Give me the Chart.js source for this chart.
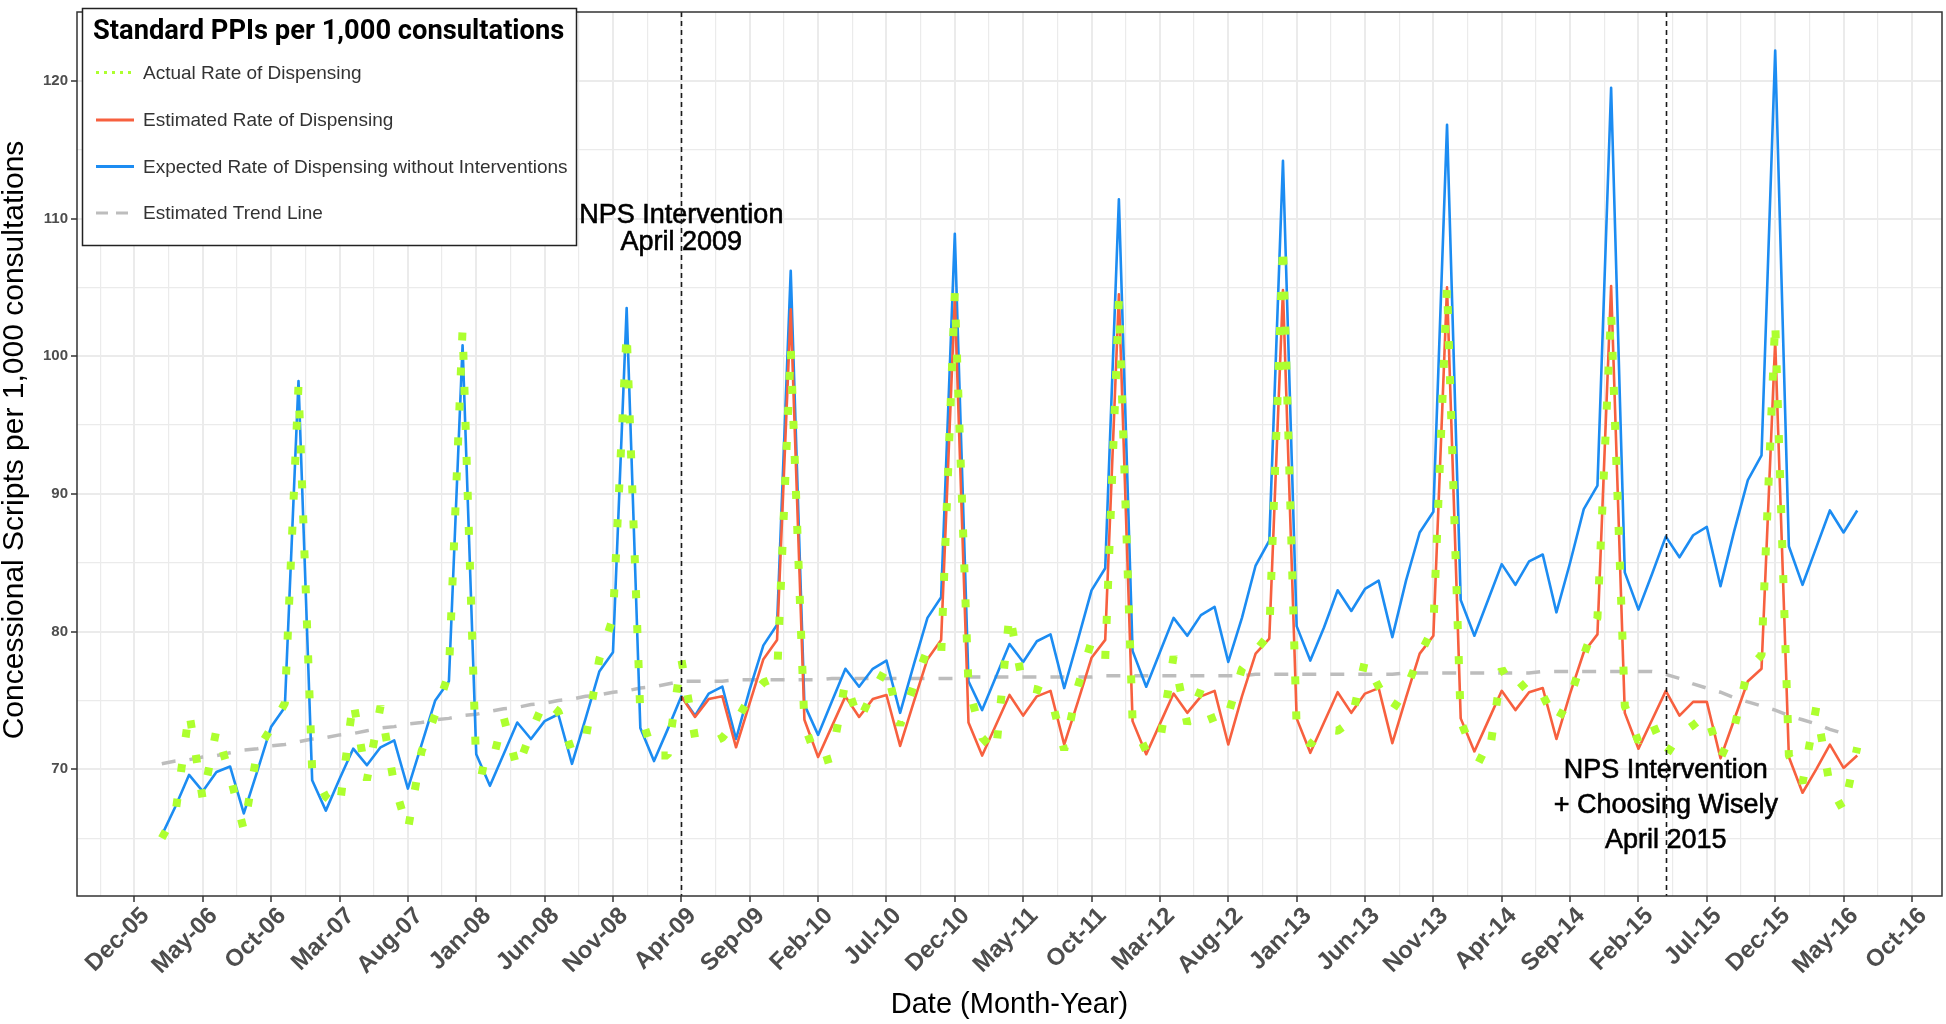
<!DOCTYPE html>
<html>
<head>
<meta charset="utf-8">
<script src="https://cdn.jsdelivr.net/npm/chart.js@4.4.1/dist/chart.umd.min.js"></script>
<style>
html,body{margin:0;padding:0;background:#ffffff;}
canvas{display:block;}
</style>
</head>
<body>
<canvas id="c" width="1946" height="1024"></canvas>
<script>
// ---------- DATA ----------
const months = [
 '2006-02','2006-03','2006-04','2006-05','2006-06','2006-07','2006-08','2006-09','2006-10','2006-11','2006-12',
 '2007-01','2007-02','2007-03','2007-04','2007-05','2007-06','2007-07','2007-08','2007-09','2007-10','2007-11','2007-12',
 '2008-01','2008-02','2008-03','2008-04','2008-05','2008-06','2008-07','2008-08','2008-09','2008-10','2008-11','2008-12',
 '2009-01','2009-02','2009-03','2009-04','2009-05','2009-06','2009-07','2009-08','2009-09','2009-10','2009-11','2009-12',
 '2010-01','2010-02','2010-03','2010-04','2010-05','2010-06','2010-07','2010-08','2010-09','2010-10','2010-11','2010-12',
 '2011-01','2011-02','2011-03','2011-04','2011-05','2011-06','2011-07','2011-08','2011-09','2011-10','2011-11','2011-12',
 '2012-01','2012-02','2012-03','2012-04','2012-05','2012-06','2012-07','2012-08','2012-09','2012-10','2012-11','2012-12',
 '2013-01','2013-02','2013-03','2013-04','2013-05','2013-06','2013-07','2013-08','2013-09','2013-10','2013-11','2013-12',
 '2014-01','2014-02','2014-03','2014-04','2014-05','2014-06','2014-07','2014-08','2014-09','2014-10','2014-11','2014-12',
 '2015-01','2015-02','2015-03','2015-04','2015-05','2015-06','2015-07','2015-08','2015-09','2015-10','2015-11','2015-12',
 '2016-01','2016-02','2016-03','2016-04','2016-05','2016-06'
];

const actualRate = [
 65.0, 66.8, 74.2, 67.8, 72.9, 69.5, 65.6, 71.4, 73.0, 74.8, 97.9,
 69.9, 68.0, 67.2, 75.0, 69.2, 74.6, 68.9, 65.6, 71.3, 74.0, 77.0, 102.0,
 70.0, 69.8, 73.8, 70.0, 72.7, 75.0, 74.2, 71.3, 72.2, 78.0, 81.0, 101.8,
 74.0, 71.0, 71.0, 78.0, 72.3, 71.8, 72.3, 73.5, 75.2, 76.3, 76.7, 100.6,
 73.2, 70.5, 70.8, 76.4, 73.5, 75.6, 77.4, 73.2, 76.1, 78.7, 78.2, 104.6,
 76.0, 72.3, 71.2, 81.3, 76.0, 75.8, 75.4, 71.4, 76.0, 79.3, 78.0, 104.1,
 73.5, 71.3, 72.0, 78.2, 73.3, 75.8, 73.2, 74.0, 77.3, 78.6, 79.8, 108.2,
 73.0, 71.8, 72.9, 72.8, 73.5, 77.9, 76.0, 74.3, 75.8, 78.3, 80.3, 105.2,
 73.5, 71.0, 70.5, 77.3, 75.6, 76.5, 75.4, 73.4, 75.2, 78.3, 81.0, 103.3,
 74.6, 72.0, 73.4, 71.0, 72.5, 73.2, 74.0, 70.8, 73.0, 77.2, 78.3, 102.6,
 71.0, 69.0, 74.5, 68.8, 67.0, 71.6
];

const estimatedRate = [
 null, null, null, null, null, null, null, null, null, null, null,
 null, null, null, null, null, null, null, null, null, null, null, null,
 null, null, null, null, null, null, null, null, null, null, null, null,
 null, null, null, 75.3, 73.8, 75.1, 75.3, 71.6, 74.8, 78.0, 79.4, 103.4,
 73.6, 70.9, 73.1, 75.3, 73.8, 75.1, 75.4, 71.7, 74.9, 78.0, 79.4, 104.2,
 73.4, 71.0, 73.2, 75.4, 73.9, 75.3, 75.7, 71.8, 74.9, 78.1, 79.4, 104.5,
 73.5, 71.1, 73.3, 75.5, 74.1, 75.3, 75.7, 71.8, 75.3, 78.4, 79.5, 104.8,
 73.7, 71.2, 73.4, 75.6, 74.1, 75.5, 75.9, 71.9, 75.2, 78.4, 79.7, 105.0,
 73.7, 71.3, 73.5, 75.7, 74.3, 75.6, 75.9, 72.2, 75.5, 78.5, 79.8, 105.1,
 74.1, 71.5, 73.6, 75.7, 73.9, 74.9, 74.9, 70.8, 73.6, 76.4, 77.3, 101.1,
 70.9, 68.3, 70.0, 71.8, 70.1, 71.0
];

const expectedRate = [
 65.2, 67.3, 69.6, 68.4, 69.8, 70.2, 66.8, 69.9, 73.1, 74.5, 98.2,
 69.2, 67.0, 69.3, 71.5, 70.3, 71.6, 72.1, 68.6, 71.8, 75.0, 76.4, 100.8,
 71.1, 68.8, 71.1, 73.4, 72.2, 73.5, 74.0, 70.4, 73.7, 77.1, 78.5, 103.5,
 73.0, 70.6, 72.9, 75.3, 73.9, 75.5, 76.0, 72.2, 75.8, 79.0, 80.5, 106.2,
 74.7, 72.5, 74.9, 77.3, 76.0, 77.3, 77.9, 74.1, 77.6, 81.0, 82.5, 108.9,
 76.4, 74.3, 76.7, 79.1, 77.8, 79.3, 79.8, 75.9, 79.4, 83.0, 84.6, 111.4,
 78.6, 76.0, 78.5, 81.0, 79.7, 81.2, 81.8, 77.8, 81.0, 84.8, 86.6, 114.2,
 80.4, 77.9, 80.3, 83.0, 81.5, 83.1, 83.7, 79.6, 83.7, 87.2, 88.7, 116.8,
 82.3, 79.7, 82.3, 84.9, 83.4, 85.1, 85.6, 81.4, 85.0, 88.9, 90.6, 119.5,
 84.3, 81.6, 84.2, 86.9, 85.4, 87.0, 87.6, 83.3, 87.3, 91.0, 92.8, 122.2,
 86.2, 83.4, 86.1, 88.8, 87.2, 88.8
];

const trendLine = [
 70.4, 70.6, 70.7, 70.9, 71.0, 71.2, 71.4, 71.5, 71.7, 71.8, 72.0,
 72.2, 72.3, 72.5, 72.6, 72.8, 73.0, 73.1, 73.3, 73.4, 73.6, 73.7, 73.9,
 74.0, 74.2, 74.4, 74.5, 74.7, 74.8, 75.0, 75.1, 75.3, 75.4, 75.6, 75.7,
 75.9, 76.0, 76.2, 76.4, 76.4, 76.4, 76.4, 76.5, 76.5, 76.5, 76.5, 76.5,
 76.5, 76.5, 76.6, 76.6, 76.6, 76.6, 76.6, 76.6, 76.6, 76.6, 76.6, 76.6,
 76.7, 76.7, 76.7, 76.7, 76.7, 76.7, 76.7, 76.7, 76.7, 76.7, 76.8, 76.8,
 76.8, 76.8, 76.8, 76.8, 76.8, 76.8, 76.8, 76.8, 76.8, 76.9, 76.9, 76.9,
 76.9, 76.9, 76.9, 76.9, 76.9, 76.9, 76.9, 76.9, 77.0, 77.0, 77.0, 77.0,
 77.0, 77.0, 77.0, 77.0, 77.0, 77.0, 77.1, 77.1, 77.1, 77.1, 77.1, 77.1,
 77.1, 77.1, 77.1, 76.9, 76.6, 76.2, 75.9, 75.6, 75.2, 74.9, 74.6, 74.3,
 73.9, 73.6, 73.3, 72.9, 72.6, null
];

const xTickLabels = ['Dec-05','May-06','Oct-06','Mar-07','Aug-07','Jan-08','Jun-08','Nov-08','Apr-09',
 'Sep-09','Feb-10','Jul-10','Dec-10','May-11','Oct-11','Mar-12','Aug-12','Jan-13','Jun-13','Nov-13',
 'Apr-14','Sep-14','Feb-15','Jul-15','Dec-15','May-16','Oct-16'];
const yTickValues = [70, 80, 90, 100, 110, 120];

const seriesNames = ['Actual Rate of Dispensing','Estimated Rate of Dispensing',
 'Expected Rate of Dispensing without Interventions','Estimated Trend Line'];
const legendTitle = 'Standard PPIs per 1,000 consultations';
const xAxisTitle = 'Date (Month-Year)';
const yAxisTitle = 'Concessional Scripts per 1,000 consultations';

const interventionMonths = ['2009-04', '2015-04'];
const interventionLabels = [['NPS Intervention','April 2009'], ['NPS Intervention','+ Choosing Wisely','April 2015']];
const interventionLabelY = [109.25, 67.4];

// ---------- HELPERS ----------
const BASE = { y: 2005, m: 12 };  // axis origin: Dec 2005
function monthIndex(s) {
  const [yy, mm] = s.split('-').map(Number);
  return (yy - BASE.y) * 12 + (mm - BASE.m);
}
function toPoints(values) {
  return months.map((m, i) => ({ x: monthIndex(m), y: values[i] }));
}
const near = (a, b) => Math.abs(a - b) < 1e-6;
const isMajorX = v => near(v / 5, Math.round(v / 5));
const isMajorY = v => near(v / 10, Math.round(v / 10));

const COLORS = {
  actual: '#ADFF2F',
  estimated: '#F7603F',
  expected: '#1C8CF2',
  trend: '#BDBDBD',
  grid: '#EBEBEB',
  axisText: '#4D4D4D',
  border: '#333333'
};
const SANS = '"Liberation Sans", Arial, Helvetica, sans-serif';
Chart.defaults.font.family = SANS;

// ---------- OVERLAY PLUGIN (annotations, panel border, y title, legend) ----------
const overlay = {
  id: 'overlay',
  afterDatasetsDraw(chart) {
    const { ctx, chartArea: a, scales: { x, y } } = chart;
    ctx.save();
    ctx.fillStyle = '#000000';
    ctx.strokeStyle = '#000000';
    ctx.lineWidth = 0.6;
    ctx.font = '27px ' + SANS;
    ctx.textAlign = 'center';
    ctx.textBaseline = 'middle';
    const spacing = [27.5, 35];
    interventionMonths.forEach((m, k) => {
      const px = x.getPixelForValue(monthIndex(m));
      const cy = y.getPixelForValue(interventionLabelY[k]);
      const lines = interventionLabels[k];
      lines.forEach((t, j) => {
        const ty = cy + (j - (lines.length - 1) / 2) * spacing[k];
        ctx.fillText(t, px, ty);
        ctx.strokeText(t, px, ty);
      });
    });
    ctx.strokeStyle = '#1a1a1a';
    ctx.lineWidth = 1.6;
    ctx.setLineDash([5, 4]);
    interventionMonths.forEach(m => {
      const px = Math.round(x.getPixelForValue(monthIndex(m))) + 0.5;
      ctx.beginPath();
      ctx.moveTo(px, a.top);
      ctx.lineTo(px, a.bottom);
      ctx.stroke();
    });
    ctx.setLineDash([]);
    ctx.strokeStyle = COLORS.border;
    ctx.lineWidth = 1.5;
    ctx.strokeRect(a.left, a.top, a.right - a.left, a.bottom - a.top);
    ctx.restore();
  },
  afterDraw(chart) {
    const { ctx } = chart;
    ctx.save();
    // y-axis title
    ctx.save();
    ctx.translate(15, 440);
    ctx.rotate(-Math.PI / 2);
    ctx.fillStyle = '#000000';
    ctx.font = '30px ' + SANS;
    ctx.textAlign = 'center';
    ctx.textBaseline = 'middle';
    ctx.fillText(yAxisTitle, 0, 0);
    ctx.restore();

    // legend
    const L = { x: 82, y: 8, w: 494, h: 237 };
    ctx.fillStyle = '#ffffff';
    ctx.fillRect(L.x, L.y, L.w, L.h);
    ctx.strokeStyle = '#222222';
    ctx.lineWidth = 1.5;
    ctx.strokeRect(L.x + 0.5, L.y + 0.5, L.w, L.h);
    ctx.fillStyle = '#000000';
    ctx.textAlign = 'left';
    ctx.textBaseline = 'middle';
    ctx.font = 'bold 26px Roboto, ' + SANS;
    const tw = ctx.measureText(legendTitle).width;
    const fs = 26 * 471 / tw;
    ctx.font = 'bold ' + fs.toFixed(1) + 'px Roboto, ' + SANS;
    ctx.fillText(legendTitle, 93, 32);
    const rows = [72.5, 120, 166.5, 213];
    const kx0 = 96, kx1 = 134;
    const styles = [
      { c: COLORS.actual, w: 3, d: [3, 5] },
      { c: COLORS.estimated, w: 3, d: [] },
      { c: COLORS.expected, w: 3, d: [] },
      { c: COLORS.trend, w: 3, d: [12, 8] }
    ];
    seriesNames.forEach((name, i) => {
      const s = styles[i];
      ctx.strokeStyle = s.c;
      ctx.lineWidth = s.w;
      ctx.lineCap = 'butt';
      ctx.setLineDash(s.d);
      ctx.beginPath();
      ctx.moveTo(kx0, rows[i]);
      ctx.lineTo(kx1, rows[i]);
      ctx.stroke();
      ctx.setLineDash([]);
      ctx.fillStyle = '#333333';
      ctx.font = '19px ' + SANS;
      ctx.fillText(name, 143, rows[i] + 1);
    });
    ctx.restore();
  }
};

// ---------- CHART ----------
new Chart(document.getElementById('c'), {
  type: 'line',
  data: {
    datasets: [
      { label: seriesNames[0], data: toPoints(actualRate), borderColor: COLORS.actual,
        borderWidth: 8, borderDash: [8, 27], borderCapStyle: 'butt', borderJoinStyle: 'bevel' },
      { label: seriesNames[1], data: toPoints(estimatedRate), borderColor: COLORS.estimated,
        borderWidth: 2.6, borderJoinStyle: 'round' },
      { label: seriesNames[2], data: toPoints(expectedRate), borderColor: COLORS.expected,
        borderWidth: 2.6, borderJoinStyle: 'round' },
      { label: seriesNames[3], data: toPoints(trendLine), borderColor: COLORS.trend,
        borderWidth: 3.5, borderDash: [14, 14], borderCapStyle: 'butt' }
    ]
  },
  options: {
    responsive: false,
    animation: false,
    spanGaps: false,
    layout: { padding: { left: 0, right: 4, top: 4, bottom: 0 } },
    elements: { point: { radius: 0, hoverRadius: 0 }, line: { tension: 0, fill: false } },
    plugins: { legend: { display: false }, tooltip: { enabled: false } },
    scales: {
      x: {
        type: 'linear',
        min: -4.2,
        max: 132.2,
        afterBuildTicks: s => {
          const t = [];
          for (let v = -2.5; v <= s.max + 1e-9; v += 2.5) t.push({ value: v });
          s.ticks = t;
        },
        afterFit: s => { s.height = 128; },
        ticks: {
          autoSkip: false, minRotation: 45, maxRotation: 45, padding: 0, labelOffset: 11,
          color: COLORS.axisText, font: { size: 24, weight: 'bold' },
          callback: v => isMajorX(v) ? xTickLabels[Math.round(v / 5)] : ''
        },
        grid: {
          color: COLORS.grid,
          lineWidth: c => (c.tick && isMajorX(c.tick.value)) ? 2 : 1.2,
          tickLength: 6,
          tickWidth: 1.5,
          tickColor: c => (c.tick && isMajorX(c.tick.value)) ? '#333333' : 'rgba(0,0,0,0)'
        },
        border: { display: false },
        title: { display: true, text: xAxisTitle, color: '#000000',
                 font: { size: 29, lineHeight: 1 }, padding: { top: 0, bottom: 4.5 } }
      },
      y: {
        type: 'linear',
        min: 60.8,
        max: 125,
        afterBuildTicks: s => {
          const t = [];
          for (let v = 65; v <= 120 + 1e-9; v += 5) t.push({ value: v });
          s.ticks = t;
        },
        afterFit: s => { s.width = 77; },
        ticks: {
          color: COLORS.axisText, font: { size: 15, weight: 'bold' }, padding: 3,
          callback: v => yTickValues.includes(v) ? String(v) : ''
        },
        grid: {
          color: COLORS.grid,
          lineWidth: c => (c.tick && isMajorY(c.tick.value)) ? 2 : 1.2,
          tickLength: 6,
          tickWidth: 1.5,
          tickColor: c => (c.tick && isMajorY(c.tick.value)) ? '#333333' : 'rgba(0,0,0,0)'
        },
        border: { display: false },
        title: { display: false }
      }
    }
  },
  plugins: [overlay]
});
</script>
</body>
</html>
